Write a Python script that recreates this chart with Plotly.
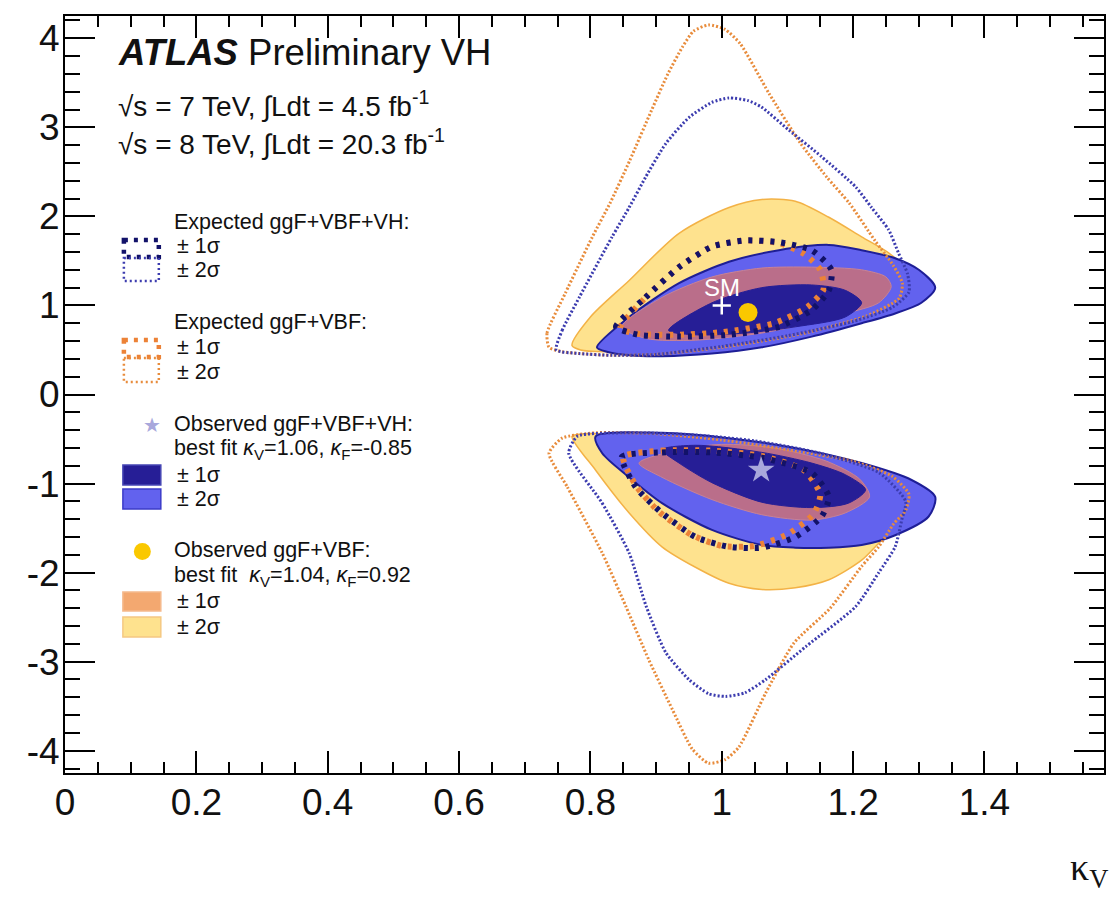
import plotly.graph_objects as go

# ---------------- data ----------------
# Observed ggF+VBF, +-2 sigma (yellow), upper / lower islands
yel_up_x = [0.772, 0.80, 0.859, 0.935, 1.011, 1.061, 1.112, 1.163, 1.213, 1.254, 1.28, 1.29, 1.27, 1.20, 1.10, 1.00, 0.90, 0.82, 0.785]
yel_up_y = [0.55, 0.87, 1.28, 1.81, 2.10, 2.19, 2.17, 1.99, 1.77, 1.59, 1.42, 1.25, 1.05, 0.85, 0.70, 0.58, 0.50, 0.48, 0.50]
yel_lo_x = [0.772, 0.808, 0.859, 0.909, 0.96, 1.011, 1.061, 1.112, 1.163, 1.213, 1.239, 1.27, 1.28, 1.25, 1.15, 1.05, 0.95, 0.85, 0.79]
yel_lo_y = [-0.47, -0.85, -1.33, -1.71, -1.94, -2.12, -2.19, -2.17, -2.08, -1.86, -1.67, -1.45, -1.25, -1.0, -0.75, -0.6, -0.5, -0.45, -0.44]

# Observed ggF+VBF+VH, +-2 sigma (blue)
blu2_up_x = [0.81, 0.859, 0.935, 1.011, 1.087, 1.163, 1.213, 1.264, 1.30, 1.325, 1.304, 1.264, 1.213, 1.137, 1.061, 0.985, 0.909, 0.859, 0.825]
blu2_up_y = [0.53, 0.87, 1.25, 1.49, 1.62, 1.68, 1.62, 1.53, 1.40, 1.20, 1.03, 0.91, 0.80, 0.65, 0.53, 0.46, 0.43, 0.44, 0.48]
blu2_lo_x = [0.808, 0.909, 1.011, 1.112, 1.213, 1.289, 1.325, 1.315, 1.264, 1.213, 1.163, 1.112, 1.061, 0.985, 0.909, 0.859, 0.818]
blu2_lo_y = [-0.47, -0.43, -0.49, -0.60, -0.77, -0.96, -1.15, -1.37, -1.58, -1.69, -1.72, -1.72, -1.69, -1.52, -1.22, -0.93, -0.66]

# Observed ggF+VBF, +-1 sigma (orange, seen through the blue band)
or1_up_x = [0.848, 0.909, 0.985, 1.061, 1.137, 1.213, 1.250, 1.258, 1.239, 1.188, 1.12, 1.061, 0.96, 0.884]
or1_up_y = [0.76, 1.09, 1.32, 1.42, 1.43, 1.40, 1.32, 1.21, 1.03, 0.91, 0.78, 0.69, 0.61, 0.63]
or1_lo_x = [0.874, 0.935, 1.0, 1.08, 1.16, 1.21, 1.225, 1.188, 1.137, 1.061, 0.985, 0.909]
or1_lo_y = [-0.77, -0.62, -0.56, -0.60, -0.75, -0.95, -1.15, -1.33, -1.41, -1.35, -1.18, -0.93]

# Observed ggF+VBF+VH, +-1 sigma (dark blue)
db1_up_x = [0.919, 0.985, 1.061, 1.137, 1.188, 1.213, 1.188, 1.112, 1.036, 0.96]
db1_up_y = [0.72, 1.03, 1.20, 1.23, 1.17, 1.03, 0.87, 0.76, 0.69, 0.67]
db1_lo_x = [0.909, 0.96, 1.061, 1.137, 1.188, 1.219, 1.193, 1.137, 1.061, 0.985, 0.935]
db1_lo_y = [-0.62, -0.57, -0.65, -0.77, -0.90, -1.07, -1.22, -1.27, -1.21, -0.99, -0.77]

# Expected ggF+VBF+VH
e1b_up_x = [0.839, 0.884, 0.935, 0.985, 1.036, 1.087, 1.137, 1.167, 1.163, 1.137, 1.087, 1.011, 0.935, 0.874]
e1b_up_y = [0.76, 1.09, 1.43, 1.66, 1.73, 1.71, 1.62, 1.40, 1.17, 0.95, 0.76, 0.67, 0.65, 0.67]
e1b_lo_x = [0.848, 0.909, 0.985, 1.061, 1.137, 1.163, 1.152, 1.112, 1.061, 1.011, 0.96, 0.909, 0.869]
e1b_lo_y = [-0.70, -0.65, -0.65, -0.71, -0.88, -1.15, -1.37, -1.60, -1.72, -1.71, -1.60, -1.33, -1.04]
e2b_up_x = [0.748, 0.757, 0.783, 0.833, 0.859, 0.884, 0.915, 0.950, 0.985, 1.011, 1.040, 1.060, 1.102, 1.152, 1.204, 1.228, 1.254, 1.269, 1.283, 1.285, 1.26, 1.20, 1.10, 1.0, 0.90, 0.833, 0.783]
e2b_up_y = [0.50, 0.72, 1.09, 1.77, 2.10, 2.44, 2.82, 3.11, 3.28, 3.33, 3.30, 3.23, 2.97, 2.67, 2.33, 2.10, 1.85, 1.59, 1.35, 1.15, 0.98, 0.82, 0.66, 0.54, 0.45, 0.44, 0.46]
e2b_lo_x = [0.767, 0.818, 0.859, 0.885, 0.915, 0.950, 0.980, 1.006, 1.035, 1.067, 1.128, 1.204, 1.239, 1.264, 1.274, 1.28, 1.24, 1.15, 1.05, 0.95, 0.85, 0.78]
e2b_lo_y = [-0.66, -1.22, -1.78, -2.38, -2.90, -3.20, -3.36, -3.39, -3.35, -3.20, -2.83, -2.38, -2.00, -1.71, -1.41, -1.20, -0.88, -0.66, -0.52, -0.45, -0.43, -0.47]

# Expected ggF+VBF
e1o_up_x = [0.845, 0.884, 0.935, 0.985, 1.036, 1.087, 1.125, 1.15, 1.155, 1.13, 1.08, 1.0, 0.93, 0.875]
e1o_up_y = [0.74, 1.09, 1.43, 1.66, 1.73, 1.70, 1.58, 1.40, 1.18, 0.98, 0.80, 0.70, 0.67, 0.68]
e1o_lo_x = [0.85, 0.909, 0.985, 1.061, 1.125, 1.15, 1.14, 1.10, 1.05, 1.00, 0.955, 0.905, 0.87]
e1o_lo_y = [-0.70, -0.63, -0.63, -0.69, -0.85, -1.12, -1.34, -1.57, -1.70, -1.70, -1.58, -1.32, -1.03]
e2o_up_x = [0.737, 0.734, 0.762, 0.803, 0.830, 0.860, 0.893, 0.918, 0.940, 0.957, 0.980, 1.005, 1.028, 1.072, 1.120, 1.160, 1.194, 1.233, 1.261, 1.275, 1.27, 1.22, 1.12, 1.0, 0.90, 0.833, 0.783, 0.757]
e2o_up_y = [0.53, 0.69, 1.14, 1.77, 2.15, 2.63, 3.19, 3.60, 3.90, 4.08, 4.15, 4.10, 3.94, 3.38, 2.82, 2.44, 2.15, 1.73, 1.45, 1.25, 1.08, 0.88, 0.68, 0.53, 0.45, 0.44, 0.46, 0.48]
e2o_lo_x = [0.737, 0.765, 0.818, 0.854, 0.889, 0.925, 0.955, 0.980, 1.005, 1.026, 1.067, 1.110, 1.165, 1.213, 1.239, 1.262, 1.28, 1.285, 1.26, 1.20, 1.10, 1.0, 0.90, 0.808, 0.757]
e2o_lo_y = [-0.66, -1.04, -1.78, -2.38, -2.98, -3.54, -3.98, -4.14, -4.10, -3.96, -3.35, -2.79, -2.40, -1.93, -1.71, -1.45, -1.30, -1.12, -0.92, -0.75, -0.62, -0.51, -0.44, -0.43, -0.49]

# Best-fit points and SM
vh_best = (1.06, -0.85)
vbf_best = (1.04, 0.92)
sm_point = (1.0, 1.0)

x_ticks = [0, 0.2, 0.4, 0.6, 0.8, 1.0, 1.2, 1.4]
x_tick_text = ["0", "0.2", "0.4", "0.6", "0.8", "1", "1.2", "1.4"]
y_ticks = [-4, -3, -2, -1, 0, 1, 2, 3, 4]
y_tick_text = ["-4", "-3", "-2", "-1", "0", "1", "2", "3", "4"]

# ---------------- styling ----------------
W, H = 1113, 900
ML, MR, MT, MB = 65, 7, 16, 127
FONT = "Liberation Sans"

C_YEL = "rgb(254,226,142)"
C_YEL_LINE = "rgb(243,178,70)"
C_BLU2 = "rgb(98,98,238)"
C_BLU_LINE = "rgb(30,30,150)"
C_OR1 = "rgb(186,110,138)"
C_OR_BOX = "rgb(243,168,112)"
C_DB1 = "rgb(38,30,150)"
C_NAVY_DOT = "rgb(18,18,105)"
C_BLUE_DOT = "rgb(60,60,175)"
C_OR_DOT = "rgb(236,130,55)"
C_OR_DOT2 = "rgb(232,140,60)"


def pxx(x):
    return (x - ML) / (W - ML - MR)


def pxy(y):
    return (H - MB - y) / (H - MT - MB)


def closed(a):
    return list(a) + [a[0]]


fig = go.Figure()


def region(xs, ys, fill, lc, lw):
    fig.add_trace(go.Scatter(
        x=closed(xs), y=closed(ys), mode="lines", fill="toself", fillcolor=fill,
        line=dict(color=lc, width=lw, shape="spline", smoothing=0.8),
        hoverinfo="skip", showlegend=False))


def contour(xs, ys, color, width, dash):
    fig.add_trace(go.Scatter(
        x=closed(xs), y=closed(ys), mode="lines",
        line=dict(color=color, width=width, dash=dash, shape="spline", smoothing=0.6),
        hoverinfo="skip", showlegend=False))


# filled observed regions
region(yel_up_x, yel_up_y, C_YEL, C_YEL_LINE, 1.5)
region(yel_lo_x, yel_lo_y, C_YEL, C_YEL_LINE, 1.5)
region(blu2_up_x, blu2_up_y, C_BLU2, C_BLU_LINE, 2)
region(blu2_lo_x, blu2_lo_y, C_BLU2, C_BLU_LINE, 2)
region(or1_up_x, or1_up_y, C_OR1, "rgb(200,130,150)", 1)
region(or1_lo_x, or1_lo_y, C_OR1, "rgb(200,130,150)", 1)
region(db1_up_x, db1_up_y, C_DB1, C_DB1, 1)
region(db1_lo_x, db1_lo_y, C_DB1, C_DB1, 1)

# expected contours
contour(e2o_up_x, e2o_up_y, C_OR_DOT2, 3, "2px,2px")
contour(e2o_lo_x, e2o_lo_y, C_OR_DOT2, 3, "2px,2px")
contour(e2b_up_x, e2b_up_y, C_BLUE_DOT, 3, "2px,2px")
contour(e2b_lo_x, e2b_lo_y, C_BLUE_DOT, 3, "2px,2px")
contour(e1o_up_x, e1o_up_y, C_OR_DOT, 6, "4px,7px")
contour(e1o_lo_x, e1o_lo_y, C_OR_DOT, 6, "4px,7px")
contour(e1b_up_x, e1b_up_y, C_NAVY_DOT, 6, "4px,7px")
contour(e1b_lo_x, e1b_lo_y, C_NAVY_DOT, 6, "4px,7px")

# markers
fig.add_trace(go.Scatter(x=[vh_best[0]], y=[vh_best[1]], mode="markers",
                         marker=dict(symbol="star", size=20, color="rgb(168,168,220)",
                                     line=dict(width=0)),
                         hoverinfo="skip", showlegend=False))
fig.add_trace(go.Scatter(x=[vbf_best[0]], y=[vbf_best[1]], mode="markers",
                         marker=dict(symbol="circle", size=19, color="rgb(250,200,0)",
                                     line=dict(width=0)),
                         hoverinfo="skip", showlegend=False))
fig.add_trace(go.Scatter(x=[sm_point[0]], y=[sm_point[1]], mode="markers",
                         marker=dict(symbol="cross-thin", size=13,
                                     line=dict(width=2.5, color="white")),
                         hoverinfo="skip", showlegend=False))

annotations = []
shapes = []


def text(x, y, s, size, anchor="left", color="#111", family=FONT, ref="paper"):
    annotations.append(dict(x=x, y=y, xref=ref, yref=ref, text=s, showarrow=False,
                            xanchor=anchor, yanchor="middle",
                            font=dict(family=family, size=size, color=color)))


# SM label
annotations.append(dict(x=sm_point[0], y=sm_point[1], xref="x", yref="y", text="SM",
                        showarrow=False, xanchor="center", yanchor="bottom", yshift=2,
                        font=dict(family=FONT, size=24, color="white")))

# header texts
text(pxx(116), pxy(52), "<b><i>ATLAS</i></b> Preliminary VH", 36.5)
text(pxx(116), pxy(104), "√s = 7 TeV, ∫Ldt = 4.5 fb<sup>-1</sup>", 28)
text(pxx(116), pxy(142), "√s = 8 TeV, ∫Ldt = 20.3 fb<sup>-1</sup>", 28)

# legend
LS = 21.5
text(pxx(172), pxy(222), "Expected ggF+VBF+VH:", LS)
text(pxx(175), pxy(246), "± 1σ", LS)
text(pxx(175), pxy(270), "± 2σ", LS)
text(pxx(172), pxy(322), "Expected ggF+VBF:", LS)
text(pxx(175), pxy(347), "± 1σ", LS)
text(pxx(175), pxy(372), "± 2σ", LS)
text(pxx(172), pxy(424), "Observed ggF+VBF+VH:", LS)
text(pxx(172), pxy(449), "best fit <i>κ</i><sub>V</sub>=1.06, <i>κ</i><sub>F</sub>=-0.85", LS)
text(pxx(175), pxy(475), "± 1σ", LS)
text(pxx(175), pxy(499), "± 2σ", LS)
text(pxx(172), pxy(550), "Observed ggF+VBF:", LS)
text(pxx(172), pxy(576), "best fit  <i>κ</i><sub>V</sub>=1.04, <i>κ</i><sub>F</sub>=0.92", LS)
text(pxx(175), pxy(601), "± 1σ", LS)
text(pxx(175), pxy(627), "± 2σ", LS)


def rect(x0, y0, x1, y1, fill=None, lc="black", lw=1, dash=None):
    d = dict(type="rect", xref="paper", yref="paper", x0=pxx(x0), x1=pxx(x1),
             y0=pxy(y0), y1=pxy(y1), line=dict(color=lc, width=lw), layer="above")
    if dash:
        d["line"]["dash"] = dash
    if fill:
        d["fillcolor"] = fill
    shapes.append(d)


# expected icons
rect(124, 240, 159, 257, lc=C_NAVY_DOT, lw=4.5, dash="4px,6px")
rect(124, 258, 159, 281, lc=C_BLUE_DOT, lw=2.5, dash="2px,3px")
rect(124, 340, 159, 357, lc=C_OR_DOT, lw=4.5, dash="4px,6px")
rect(124, 358, 159, 382, lc=C_OR_DOT2, lw=2.5, dash="2px,3px")
# observed boxes
rect(123, 465, 161, 485, fill=C_DB1, lc="rgb(70,70,180)", lw=1.5)
rect(123, 489, 161, 509, fill=C_BLU2, lc="rgb(60,60,200)", lw=1.5)
rect(123, 592, 161, 611, fill=C_OR_BOX, lc="rgb(245,185,140)", lw=1.5)
rect(123, 617, 161, 637, fill=C_YEL, lc="rgb(245,200,130)", lw=1.5)

# legend markers (placed in paper coords)
annotations.append(dict(x=pxx(141), y=pxy(425), xref="paper", yref="paper", text="★",
                        showarrow=False, font=dict(size=20, color="rgb(168,168,220)", family="DejaVu Sans")))
shapes.append(dict(type="circle", xref="paper", yref="paper",
                   x0=pxx(134), x1=pxx(151), y0=pxy(543), y1=pxy(560),
                   fillcolor="rgb(250,200,0)", line=dict(width=0), layer="above"))

# x-axis title
annotations.append(dict(x=pxx(1112), y=pxy(870), xref="paper", yref="paper",
                        text="κ<sub>V</sub>", showarrow=False, xanchor="right", yanchor="middle",
                        font=dict(family="Liberation Serif", size=38, color="#111")))

axis_common = dict(showline=True, linecolor="black", linewidth=2, mirror="ticks",
                   ticks="inside", tickcolor="black", showgrid=False, zeroline=False,
                   tickfont=dict(family=FONT, size=37, color="#111"))

fig.update_layout(
    width=W, height=H,
    margin=dict(l=ML, r=MR, t=MT, b=MB, pad=0),
    paper_bgcolor="white", plot_bgcolor="white",
    showlegend=False,
    xaxis=dict(range=[0, 1.582], tickvals=x_ticks, ticktext=x_tick_text,
               ticklen=22, tickwidth=2, ticklabelstandoff=-4,
               minor=dict(dtick=0.05, ticklen=11, tickwidth=1.5, ticks="inside",
                          tickcolor="black", showgrid=False),
               **axis_common),
    yaxis=dict(range=[-4.25, 4.25], tickvals=y_ticks, ticktext=y_tick_text,
               ticklen=30, tickwidth=2, ticklabelstandoff=-4,
               minor=dict(dtick=0.2, ticklen=15, tickwidth=1.5, ticks="inside",
                          tickcolor="black", showgrid=False),
               **axis_common),
    annotations=annotations,
    shapes=shapes,
)

fig.write_html("out.html")
